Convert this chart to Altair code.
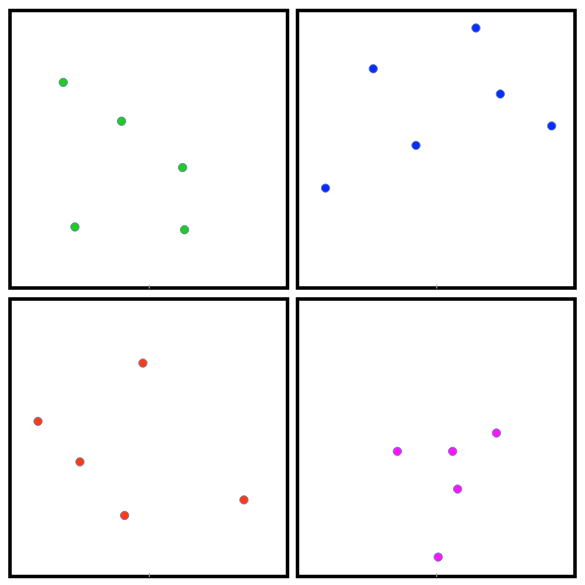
import altair as alt
import pandas as pd

green_x = [19.2, 40.2, 62.2, 23.4, 62.9]
green_y = [74.1, 60.1, 43.4, 22.0, 21.0]
blue_x = [64.3, 27.3, 73.1, 91.6, 42.7, 10.1]
blue_y = [93.7, 79.0, 69.9, 58.4, 51.4, 36.0]
red_x = [47.9, 10.1, 25.2, 84.3, 41.3]
red_y = [76.9, 55.9, 41.3, 27.6, 22.0]
magenta_x = [71.7, 36.0, 55.9, 57.7, 50.7]
magenta_y = [51.7, 45.1, 45.1, 31.5, 7.0]

panels = [
    (green_x, green_y, "#1fcc1f"),
    (blue_x, blue_y, "#0a2cff"),
    (red_x, red_y, "#ff3a14"),
    (magenta_x, magenta_y, "#ff14ff"),
]

W = 278


def panel(xs, ys, color):
    df = pd.DataFrame({"x": xs, "y": ys})
    return (
        alt.Chart(df)
        .mark_circle(size=70, opacity=1, color=color, stroke="#5a78b0", strokeWidth=0.8)
        .encode(
            x=alt.X(
                "x:Q",
                scale=alt.Scale(domain=[0, 100], nice=False),
                axis=alt.Axis(
                    values=[50],
                    labels=False,
                    domain=False,
                    grid=False,
                    tickSize=4,
                    tickColor="#aaaaaa",
                    offset=-4,
                    title=None,
                ),
            ),
            y=alt.Y("y:Q", scale=alt.Scale(domain=[0, 100], nice=False), axis=None),
        )
        .properties(width=W, height=W)
    )


charts = [panel(*p) for p in panels]
chart = (
    alt.vconcat(
        alt.hconcat(charts[0], charts[1], spacing=6),
        alt.hconcat(charts[2], charts[3], spacing=6),
        spacing=6,
    )
    .configure_view(stroke="black", strokeWidth=3.5)
    .properties(padding=0, background="white")
)

chart.save("out.html", embed_options={"renderer": "svg", "actions": False})
